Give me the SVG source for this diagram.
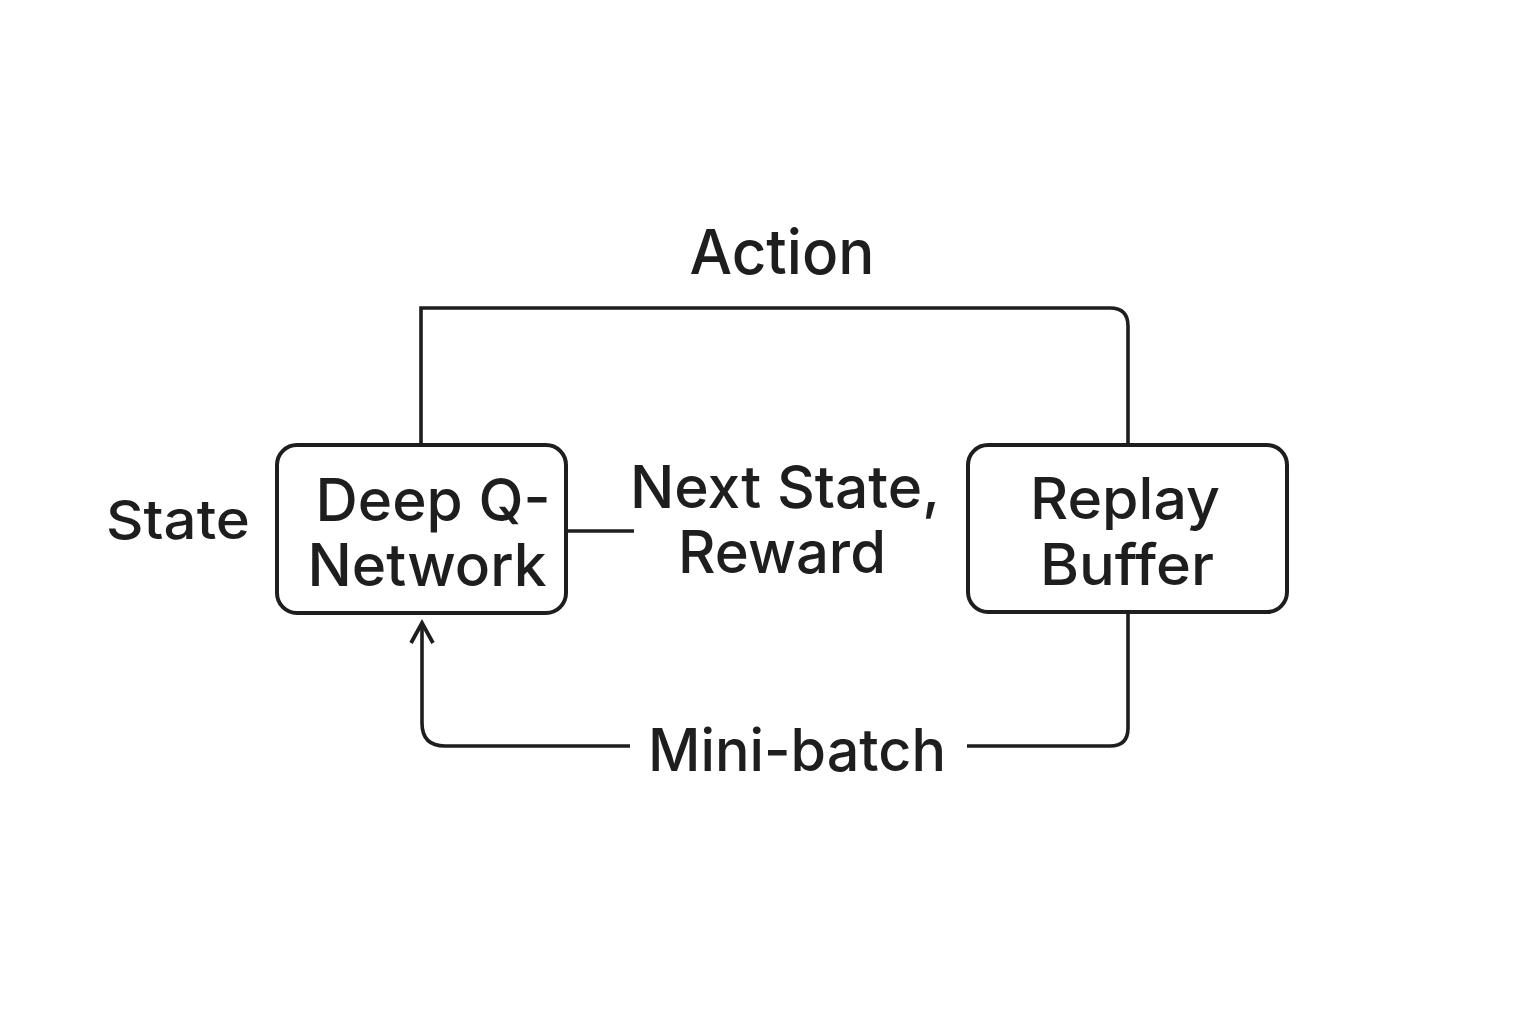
<svg xmlns="http://www.w3.org/2000/svg" width="1536" height="1024" viewBox="0 0 1536 1024">
<style>
.box{fill:#fff;stroke:#1e1e1e;stroke-width:4}
.ln{fill:none;stroke:#1e1e1e;stroke-width:3.6}
text{font-family:Inter,"Liberation Sans",sans-serif;font-weight:500;fill:#1e1e1e;text-anchor:middle}
.big{font-size:59px}
.mid{font-size:57px}
</style>
<defs>
<marker id="ah" viewBox="0 0 26 26" refX="22" refY="13" markerWidth="26" markerHeight="26" markerUnits="userSpaceOnUse" orient="auto">
<path d="M2,2 L22,13 L2,24" fill="none" stroke="#1e1e1e" stroke-width="3.8"/>
</marker>
</defs>
<rect width="1536" height="1024" fill="#fff"/>
<g id="connectors">
<path class="ln" d="M421,445 V308 H1110 Q1128,308 1128,326 V445"/>
<path class="ln" d="M566,531 H634"/>
<path class="ln" d="M1128,613 V728 Q1128,746 1110,746 H967"/>
<path class="ln" d="M630,746 H445 Q422,746 422,723 V623" marker-end="url(#ah)"/>
</g>
<g id="dqn">
<rect class="box" x="277" y="445" width="289" height="168" rx="20"/>
<text class="big" x="433" y="521" textLength="235" lengthAdjust="spacingAndGlyphs">Deep Q-</text>
<text class="big" x="427" y="586" textLength="239" lengthAdjust="spacingAndGlyphs">Network</text>
</g>
<g id="replay">
<rect class="box" x="968" y="445" width="319" height="167" rx="20"/>
<text class="mid" x="1125" y="519" textLength="190" lengthAdjust="spacingAndGlyphs">Replay</text>
<text class="mid" x="1127" y="585" textLength="174" lengthAdjust="spacingAndGlyphs">Buffer</text>
</g>
<g id="labels">
<text x="782" y="274" font-size="62" textLength="185" lengthAdjust="spacingAndGlyphs">Action</text>
<text x="178" y="539" font-size="54" textLength="144" lengthAdjust="spacingAndGlyphs">State</text>
<text class="big" x="785" y="508" textLength="310" lengthAdjust="spacingAndGlyphs">Next State,</text>
<text class="big" x="782" y="573" textLength="208" lengthAdjust="spacingAndGlyphs">Reward</text>
<text class="big" x="797" y="771" textLength="298" lengthAdjust="spacingAndGlyphs">Mini-batch</text>
</g>
</svg>
